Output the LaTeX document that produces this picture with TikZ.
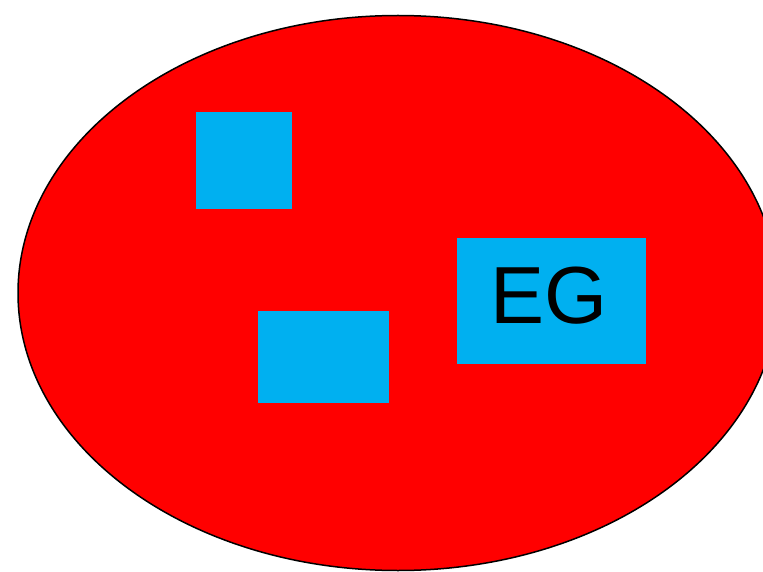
\documentclass[tikz,border=0pt]{standalone}
\usepackage{fontspec}
\setmainfont{Liberation Sans}
\usetikzlibrary{shapes.geometric}
\definecolor{EGRed}{HTML}{FF0000}
\definecolor{EGCyan}{HTML}{00B0F0}
\begin{document}
\begin{tikzpicture}[x=1pt,y=-1pt,
  blob/.style={ellipse,fill=EGRed,draw=black,line width=1.5pt,inner sep=0pt},
  tile/.style={rectangle,fill=EGCyan,inner sep=0pt}]
\path[use as bounding box] (0,0) rectangle (763,572);
\node[blob,minimum width=760pt,minimum height=555pt] (outer) at (398,293) {};
\node[tile,minimum width=96pt,minimum height=97pt] (boxA) at (244,160.5) {};
\node[tile,minimum width=131pt,minimum height=92pt] (boxB) at (323.5,357) {};
\node[tile,minimum width=189pt,minimum height=126pt] (boxC) at (551.5,301) {};
\node[inner sep=0pt,font=\fontsize{81}{81}\selectfont] (eg) at (549,296) {EG};
\end{tikzpicture}
\end{document}
